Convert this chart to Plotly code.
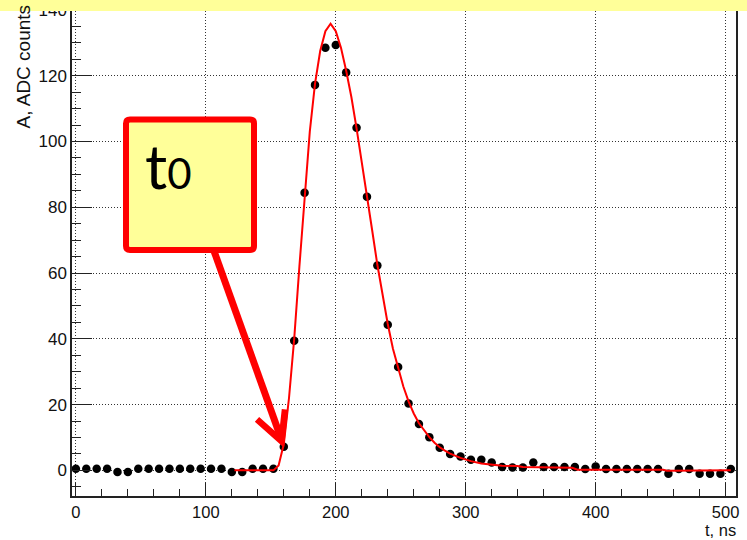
import plotly.graph_objects as go

# ADC samples of one pulse (8 ns sampling)
t_ns = [0, 8, 16, 24, 32, 40, 48, 56, 64, 72, 80, 88, 96, 104, 112, 120,
        128, 136, 144, 152, 160, 168, 176, 184, 192, 200, 208, 216, 224, 232, 240, 248,
        256, 264, 272, 280, 288, 296, 304, 312, 320, 328, 336, 344, 352, 360, 368, 376,
        384, 392, 400, 408, 416, 424, 432, 440, 448, 456, 464, 472, 480, 488, 496, 504]
adc = [0.5, 0.5, 0.5, 0.5, -0.5, -0.5, 0.5, 0.5, 0.5, 0.5, 0.5, 0.5, 0.5, 0.5, 0.5, -0.5,
       -0.5, 0.5, 0.5, 0.5, 7.2, 39.4, 84.4, 117.2, 128.5, 129.3, 121.0, 104.2, 83.2, 62.3, 44.3, 31.4,
       20.3, 14.1, 10.1, 6.9, 5.0, 4.2, 3.2, 3.2, 2.4, 1.0, 0.9, 0.9, 2.4, 1.0, 1.0, 1.0,
       1.0, 0.4, 1.2, 0.4, 0.4, 0.4, 0.4, 0.4, 0.4, -1.0, 0.4, 0.4, -1.0, -1.0, -1.0, 0.4]

# Fitted pulse shape
fit_t = [122, 152, 156, 160, 164, 168, 172, 176, 180, 184, 188, 192, 196, 200, 204, 208,
         212, 216, 220, 224, 228, 232, 236, 240, 244, 248, 252, 256, 260, 264, 268, 272,
         276, 280, 284, 288, 296, 304, 312, 320, 328, 340, 344, 382, 386, 452, 455, 504]
fit_a = [0.0, 0.0, 1.5, 8.0, 22.0, 40.0, 62.0, 84.0, 103.0, 117.5, 127.5, 133.5, 135.8, 133.5, 128.5, 121.5,
         113.5, 104.0, 94.0, 83.5, 73.0, 62.5, 53.0, 44.5, 37.0, 31.0, 25.5, 21.0, 17.3, 14.3, 12.0, 10.1,
         8.4, 7.0, 6.0, 5.1, 3.8, 2.8, 2.1, 1.7, 1.4, 1.3, 1.0, 0.8, 0.2, 0.2, -0.1, 0.0]

x_ticks = [0, 100, 200, 300, 400, 500]
y_ticks = [0, 20, 40, 60, 80, 100, 120, 140]

W, H = 747, 540
PL, PR, PT, PB = 72, 736, 0, 496


def px(x):
    return (x - PL) / (PR - PL)


def py(y):
    return (PB - y) / (PB - PT)


def rounded_box(x0, y0, x1, y1, r):
    pts = [
        f"M {px(x0 + r)},{py(y0)}",
        f"L {px(x1 - r)},{py(y0)}",
        f"Q {px(x1)},{py(y0)} {px(x1)},{py(y0 + r)}",
        f"L {px(x1)},{py(y1 - r)}",
        f"Q {px(x1)},{py(y1)} {px(x1 - r)},{py(y1)}",
        f"L {px(x0 + r)},{py(y1)}",
        f"Q {px(x0)},{py(y1)} {px(x0)},{py(y1 - r)}",
        f"L {px(x0)},{py(y0 + r)}",
        f"Q {px(x0)},{py(y0)} {px(x0 + r)},{py(y0)}",
        "Z",
    ]
    return " ".join(pts)


fig = go.Figure()
fig.add_trace(go.Scatter(
    x=t_ns, y=adc, mode="markers",
    marker=dict(color="black", size=8.5, symbol="circle"),
    showlegend=False, hoverinfo="skip",
))
fig.add_trace(go.Scatter(
    x=fit_t, y=fit_a, mode="lines",
    line=dict(color="#ff0000", width=2),
    showlegend=False, hoverinfo="skip",
))

y_font = dict(family="Liberation Sans, Arial, sans-serif", size=17, color="#111111")
x_font = dict(family="Liberation Sans, Arial, sans-serif", size=16.5, color="#111111")

fig.update_xaxes(
    range=[-3, 508], tickvals=x_ticks, ticks="inside", ticklen=13, tickwidth=1.3,
    tickcolor="#222222", showline=True, linecolor="#222222", linewidth=1.5, mirror=True,
    showgrid=True, gridcolor="#333333", gridwidth=1, griddash="1px,2px",
    zeroline=False, tickfont=x_font,
    minor=dict(dtick=20, tick0=0, ticks="inside", ticklen=7, tickcolor="#222222",
               tickwidth=1.3, showgrid=False),
)
fig.update_yaxes(
    range=[-7.8, 142.4], tickvals=y_ticks, ticks="inside", ticklen=20, tickwidth=1.3,
    tickcolor="#222222", showline=True, linecolor="#222222", linewidth=1.5, mirror=True,
    showgrid=True, gridcolor="#333333", gridwidth=1, griddash="1px,2px",
    zeroline=False, tickfont=y_font,
    minor=dict(dtick=5, tick0=0, ticks="inside", ticklen=9, tickcolor="#222222",
               tickwidth=1.3, showgrid=False),
)

shapes = []
# yellow strip along the top edge
shapes.append(dict(type="rect", xref="paper", yref="paper",
                   x0=px(0), x1=px(W), y0=py(9), y1=py(-2),
                   fillcolor="#ffff99", line=dict(width=0), layer="above"))
# arrow pointing at the pulse start
shapes.append(dict(type="line", xref="paper", yref="paper",
                   x0=px(214), y0=py(250), x1=px(281), y1=py(438),
                   line=dict(color="#ff0000", width=7), layer="above"))
shapes.append(dict(type="path", xref="paper", yref="paper",
                   path=f"M {px(257)},{py(419)} L {px(281.5)},{py(441)} L {px(285)},{py(409)}",
                   line=dict(color="#ff0000", width=6.5), layer="above"))
# label box
shapes.append(dict(type="path", xref="paper", yref="paper",
                   path=rounded_box(126, 118, 254, 249, 4),
                   fillcolor="#ffff99", line=dict(color="#ff0000", width=6), layer="above"))
fig.update_layout(shapes=shapes)

title_font = dict(family="Liberation Sans, Arial, sans-serif", size=19, color="#111111")
fig.add_annotation(text="t<span style='font-size:42px'>0</span>",
                   xref="paper", yref="paper",
                   x=px(143), y=py(125), xanchor="left", yanchor="top", showarrow=False,
                   font=dict(family="Lato, Open Sans, sans-serif", size=62, color="black"))
fig.add_annotation(text="A, ADC counts", xref="paper", yref="paper",
                   x=px(23), y=py(129), xanchor="center", yanchor="bottom",
                   textangle=-90, showarrow=False, font=title_font)
fig.add_annotation(text="t, ns", xref="paper", yref="paper",
                   x=px(737), y=py(530), xanchor="right", yanchor="middle",
                   showarrow=False, borderpad=0,
                   font=dict(family="Liberation Sans, Arial, sans-serif", size=16.5, color="#111111"))

fig.update_layout(
    width=W, height=H,
    margin=dict(l=PL, r=W - PR, t=PT, b=H - PB, pad=0),
    paper_bgcolor="white", plot_bgcolor="white",
    showlegend=False,
)

fig.write_html("out.html")
